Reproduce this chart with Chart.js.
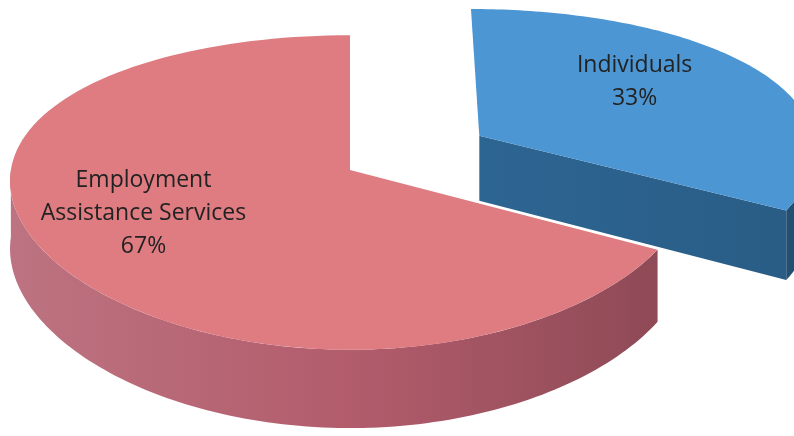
<!DOCTYPE html>
<html>
<head>
<meta charset="utf-8">
<script src="https://cdn.jsdelivr.net/npm/chart.js@4.4.1/dist/chart.umd.min.js"></script>
<style>
  html, body { margin: 0; padding: 0; background: #fff; }
  #wrap { width: 794px; height: 436px; position: relative; }
</style>
</head>
<body>
<div id="wrap"><canvas id="myChart"></canvas></div>
<script>
// chart data
const categories = ["Individuals", "Employment Assistance Services"];
const shares = [33, 67];
const percentLabels = ["33%", "67%"];

// slice colours (top face / side face)
const topColors = ["#4d96d4", "#de7c81"];
const sideColors = ["#2d6592", "#b25c6c"];

// 3d look
const STRETCH_X = 1.995;   // horizontal radius / outerRadius
const STRETCH_Y = 0.906;   // vertical radius / outerRadius
const PERSP_X = 0.07;      // horizontal perspective
const PERSP_Y = 0.143;     // front bigger than back
const DEPTH = 0.395;       // thickness / outerRadius
const EXPLODE = [0.45, 0]; // how far each slice is pulled out
const LABEL_R = [0.56, 0.69];
const LABEL_LIFT = -14;
const LINE_H = 33;
const FONT = "23px 'Open Sans'";

function wrapText(ctx, text, maxW) {
  const words = text.split(" ");
  const lines = [];
  let cur = "";
  words.forEach((w) => {
    const test = cur ? cur + " " + w : w;
    if (cur && ctx.measureText(test).width > maxW) {
      lines.push(cur);
      cur = w;
    } else {
      cur = test;
    }
  });
  if (cur) lines.push(cur);
  return lines;
}

function shade(hex, amt) {
  const n = parseInt(hex.slice(1), 16);
  const rr = (n >> 16) & 255, gg = (n >> 8) & 255, bb = n & 255;
  const f = (c) => Math.max(0, Math.min(255, Math.round(amt < 0 ? c * (1 + amt) : c + (255 - c) * amt)));
  return `rgb(${f(rr)}, ${f(gg)}, ${f(bb)})`;
}

const pie3d = {
  id: "pie3d",
  beforeDatasetsDraw(chart) {
    const ctx = chart.ctx;
    const arcs = chart.getDatasetMeta(0).data;
    const cx = arcs[0].x, cy = arcs[0].y, r = arcs[0].outerRadius;
    const A = r * STRETCH_X, B = r * STRETCH_Y, D = r * DEPTH;

    const proj = (u, v, h) => {
      const wy = 1 - PERSP_Y * v;
      return [cx + (A * u) / (1 - PERSP_X * v), cy + (B * v + h * D) / wy];
    };

    const slices = arcs.map((arc, i) => {
      const mid = (arc.startAngle + arc.endAngle) / 2;
      return {
        i,
        start: arc.startAngle,
        end: arc.endAngle,
        mid,
        ou: EXPLODE[i] * Math.cos(mid),
        ov: EXPLODE[i] * Math.sin(mid),
      };
    });

    // back slices first
    const order = slices.slice().sort((a, b) => a.ov - b.ov);

    order.forEach((s) => {
      const pt = (t, h) => proj(s.ou + Math.cos(t), s.ov + Math.sin(t), h);
      const ctr = (h) => proj(s.ou, s.ov, h);
      const steps = 120;

      // radial cut faces
      const faces = [];
      if (Math.cos(s.end) > 0.001) faces.push(s.end);
      if (-Math.cos(s.start) > 0.001) faces.push(s.start);
      faces.forEach((t) => {
        const p0 = ctr(0), p1 = pt(t, 0), p2 = pt(t, 1), p3 = ctr(1);
        const g = ctx.createLinearGradient(p0[0], 0, p1[0], 0);
        g.addColorStop(0, sideColors[s.i]);
        g.addColorStop(1, shade(sideColors[s.i], -0.08));
        ctx.beginPath();
        ctx.moveTo(p0[0], p0[1]);
        ctx.lineTo(p1[0], p1[1]);
        ctx.lineTo(p2[0], p2[1]);
        ctx.lineTo(p3[0], p3[1]);
        ctx.closePath();
        ctx.fillStyle = g;
        ctx.fill();
      });

      // curved outer face (front half only)
      [[0, Math.PI], [2 * Math.PI, 3 * Math.PI], [-2 * Math.PI, -Math.PI]].forEach(([lo, hi]) => {
        const a = Math.max(s.start, lo), b = Math.min(s.end, hi);
        if (b <= a) return;
        const g = ctx.createLinearGradient(cx - A, 0, cx + A, 0);
        g.addColorStop(0, shade(sideColors[s.i], 0.14));
        g.addColorStop(0.5, sideColors[s.i]);
        g.addColorStop(1, shade(sideColors[s.i], -0.22));
        ctx.beginPath();
        for (let k = 0; k <= steps; k++) {
          const p = pt(a + ((b - a) * k) / steps, 0);
          k ? ctx.lineTo(p[0], p[1]) : ctx.moveTo(p[0], p[1]);
        }
        for (let k = steps; k >= 0; k--) {
          const p = pt(a + ((b - a) * k) / steps, 1);
          ctx.lineTo(p[0], p[1]);
        }
        ctx.closePath();
        ctx.fillStyle = g;
        ctx.fill();
      });

      // top face
      const c0 = ctr(0);
      ctx.beginPath();
      ctx.moveTo(c0[0], c0[1]);
      for (let k = 0; k <= steps; k++) {
        const p = pt(s.start + ((s.end - s.start) * k) / steps, 0);
        ctx.lineTo(p[0], p[1]);
      }
      ctx.closePath();
      ctx.fillStyle = topColors[s.i];
      ctx.fill();
    });

    // labels
    ctx.save();
    ctx.font = FONT;
    ctx.fillStyle = "#222222";
    ctx.textAlign = "center";
    ctx.textBaseline = "middle";
    slices.forEach((s) => {
      const lr = LABEL_R[s.i];
      const p = proj(s.ou + lr * Math.cos(s.mid), s.ov + lr * Math.sin(s.mid), 0);
      const lines = wrapText(ctx, categories[s.i], 225).concat([percentLabels[s.i]]);
      const y0 = p[1] + LABEL_LIFT - ((lines.length - 1) * LINE_H) / 2;
      lines.forEach((ln, k) => ctx.fillText(ln, p[0], y0 + k * LINE_H));
    });
    ctx.restore();

    return false;
  },
};

new Chart(document.getElementById("myChart"), {
  type: "pie",
  data: {
    labels: categories,
    datasets: [
      {
        data: shares,
        backgroundColor: topColors,
        borderWidth: 0,
      },
    ],
  },
  options: {
    responsive: true,
    maintainAspectRatio: false,
    animation: false,
    events: [],
    layout: { padding: { left: 0, top: 0, right: 94, bottom: 96 } },
    plugins: {
      legend: { display: false },
      tooltip: { enabled: false },
    },
  },
  plugins: [pie3d],
});
</script>
</body>
</html>
